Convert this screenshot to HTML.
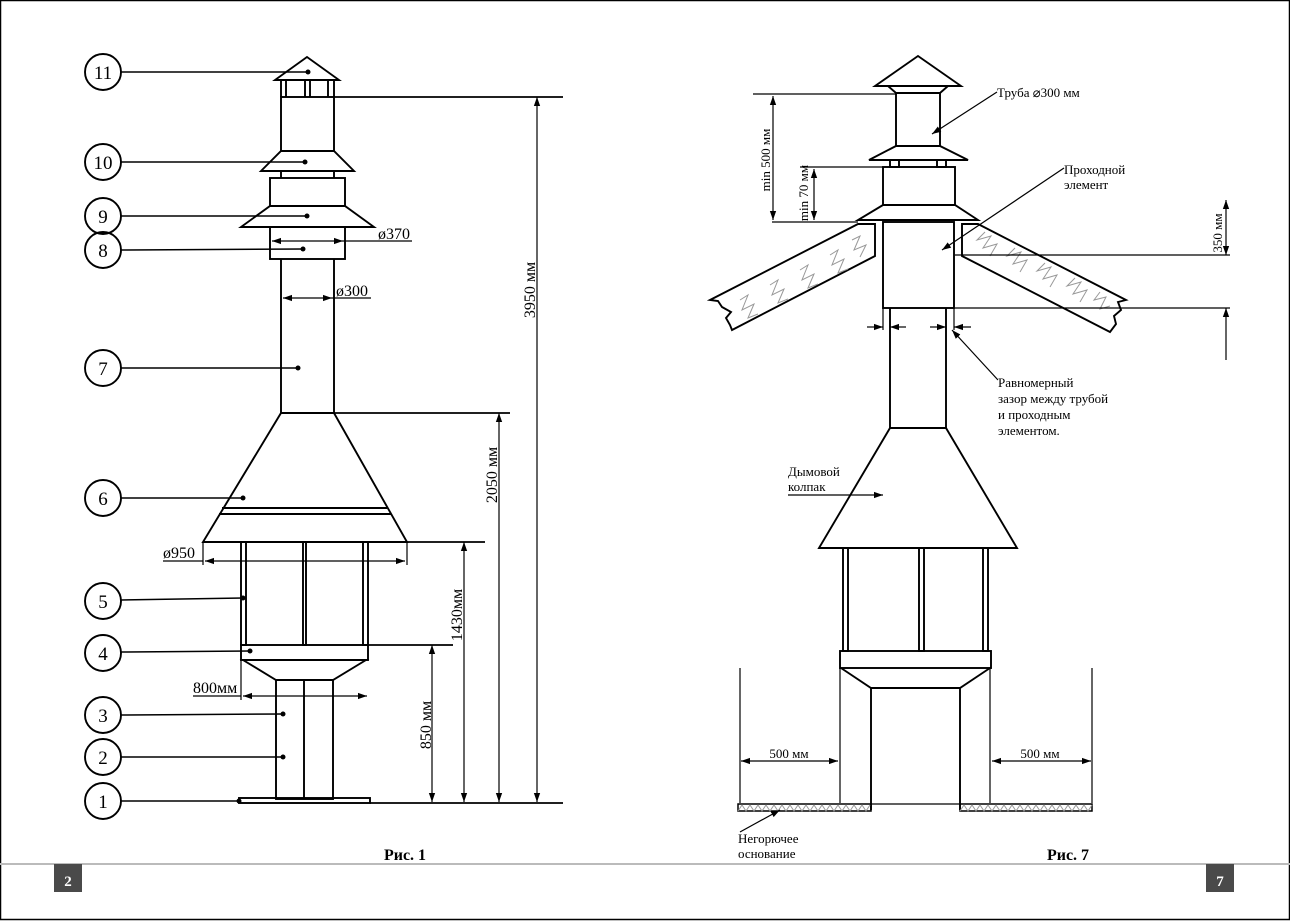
<!DOCTYPE html>
<html><head><meta charset="utf-8"><style>
html,body{margin:0;padding:0;background:#fff}
svg{display:block}
text{font-family:"Liberation Serif",serif;fill:#000}
</style></head><body>
<svg width="1290" height="921" viewBox="0 0 1290 921" xmlns="http://www.w3.org/2000/svg">
<defs>
<marker id="a" viewBox="0 0 10 10" refX="10" refY="5" markerWidth="9" markerHeight="9" markerUnits="userSpaceOnUse" orient="auto-start-reverse"><path d="M0,1.5 L10,5 L0,8.5 Z" fill="#000"/></marker>
</defs>
<rect x="0.5" y="0.5" width="1289" height="919" fill="none" stroke="#000" stroke-width="1.5"/>
<line x1="0" y1="864" x2="1290" y2="864" stroke="#bbb" stroke-width="2"/>
<rect x="54" y="864" width="28" height="28" fill="#4a4a4a"/>
<text x="68" y="886" font-size="15" font-weight="bold" text-anchor="middle" style="fill:#fff">2</text>
<rect x="1206" y="864" width="28" height="28" fill="#4a4a4a"/>
<text x="1220" y="886" font-size="15" font-weight="bold" text-anchor="middle" style="fill:#fff">7</text>

<!-- LEFT FIGURE -->
<g fill="none" stroke="#000" stroke-width="1.9">
<circle cx="103" cy="72" r="18"/><circle cx="103" cy="162" r="18"/><circle cx="103" cy="216" r="18"/><circle cx="103" cy="250" r="18"/>
<circle cx="103" cy="368" r="18"/><circle cx="103" cy="498" r="18"/><circle cx="103" cy="601" r="18"/><circle cx="103" cy="653" r="18"/>
<circle cx="103" cy="715" r="18"/><circle cx="103" cy="757" r="18"/><circle cx="103" cy="801" r="18"/>
<g stroke-width="1.5">
<line x1="121" y1="72" x2="308" y2="72"/><line x1="121" y1="162" x2="305" y2="162"/><line x1="121" y1="216" x2="307" y2="216"/>
<line x1="121" y1="250" x2="303" y2="249"/><line x1="121" y1="368" x2="298" y2="368"/><line x1="121" y1="498" x2="243" y2="498"/>
<line x1="121" y1="600" x2="243" y2="598"/><line x1="121" y1="652" x2="250" y2="651"/><line x1="121" y1="715" x2="283" y2="714"/>
<line x1="121" y1="757" x2="283" y2="757"/><line x1="121" y1="801" x2="239" y2="801"/>
</g>
<polygon points="307,57 275,80 339,80"/>
<line x1="281" y1="80" x2="281" y2="97"/><line x1="286" y1="80" x2="286" y2="97"/>
<line x1="305" y1="80" x2="305" y2="97"/><line x1="310" y1="80" x2="310" y2="97"/>
<line x1="328" y1="80" x2="328" y2="97"/><line x1="334" y1="80" x2="334" y2="97"/>
<rect x="281" y="97" width="53" height="54"/>
<polygon points="281,151 334,151 354,171 261,171"/>
<line x1="281" y1="171" x2="281" y2="178"/><line x1="334" y1="171" x2="334" y2="178"/>
<rect x="270" y="178" width="75" height="28"/>
<polygon points="270,206 345,206 374,227 241,227"/>
<rect x="270" y="227" width="75" height="32"/>
<line x1="281" y1="259" x2="281" y2="413"/><line x1="334" y1="259" x2="334" y2="413"/>
<polygon points="281,413 334,413 407,542 203,542"/>
<line x1="222" y1="508" x2="387" y2="508"/><line x1="219" y1="514" x2="391" y2="514"/>
<rect x="241" y="542" width="5" height="103"/><rect x="303" y="542" width="3" height="103"/><rect x="363" y="542" width="5" height="103"/>
<rect x="241" y="645" width="127" height="15"/>
<polygon points="243,660 366,660 333,680 276,680"/>
<rect x="276" y="680" width="57" height="119"/><line x1="304" y1="680" x2="304" y2="799"/>
<rect x="239" y="798" width="131" height="5"/>
</g>
<g fill="#000"><circle cx="308" cy="72" r="2.5"/><circle cx="305" cy="162" r="2.5"/><circle cx="307" cy="216" r="2.5"/><circle cx="303" cy="249" r="2.5"/><circle cx="298" cy="368" r="2.5"/><circle cx="243" cy="498" r="2.5"/><circle cx="243" cy="598" r="2.5"/><circle cx="250" cy="651" r="2.5"/><circle cx="283" cy="714" r="2.5"/><circle cx="283" cy="757" r="2.5"/><circle cx="239" cy="801" r="2.5"/></g>
<g font-size="19" text-anchor="middle">
<text x="103" y="79">11</text><text x="103" y="169">10</text><text x="103" y="223">9</text><text x="103" y="257">8</text>
<text x="103" y="375">7</text><text x="103" y="505">6</text><text x="103" y="608">5</text><text x="103" y="660">4</text>
<text x="103" y="722">3</text><text x="103" y="764">2</text><text x="103" y="808">1</text>
</g>
<g fill="none" stroke="#000" stroke-width="1.2">
<line x1="334" y1="97" x2="563" y2="97" stroke-width="1.7"/>
<line x1="334" y1="413" x2="510" y2="413" stroke-width="1.7"/>
<line x1="407" y1="542" x2="485" y2="542" stroke-width="1.7"/>
<line x1="368" y1="645" x2="453" y2="645" stroke-width="1.7"/>
<line x1="370" y1="803" x2="563" y2="803" stroke-width="1.7"/>
<line x1="272" y1="241" x2="343" y2="241" marker-start="url(#a)" marker-end="url(#a)"/><line x1="343" y1="241" x2="412" y2="241"/>
<line x1="283" y1="298" x2="332" y2="298" marker-start="url(#a)" marker-end="url(#a)"/><line x1="332" y1="298" x2="371" y2="298"/>
<line x1="205" y1="561" x2="405" y2="561" marker-start="url(#a)" marker-end="url(#a)"/>
<line x1="203" y1="542" x2="203" y2="565"/><line x1="407" y1="542" x2="407" y2="565"/><line x1="163" y1="561" x2="203" y2="561"/>
<line x1="243" y1="696" x2="367" y2="696" marker-start="url(#a)" marker-end="url(#a)"/>
<line x1="241" y1="660" x2="241" y2="700"/><line x1="193" y1="696" x2="241" y2="696"/>
<line x1="432" y1="645" x2="432" y2="802" marker-start="url(#a)" marker-end="url(#a)"/>
<line x1="464" y1="542" x2="464" y2="802" marker-start="url(#a)" marker-end="url(#a)"/>
<line x1="499" y1="413" x2="499" y2="802" marker-start="url(#a)" marker-end="url(#a)"/>
<line x1="537" y1="97" x2="537" y2="802" marker-start="url(#a)" marker-end="url(#a)"/>
</g>
<g font-size="16">
<text x="378" y="239">ø370</text><text x="336" y="296">ø300</text><text x="163" y="558">ø950</text><text x="193" y="693">800мм</text>
<text transform="translate(431,725) rotate(-90)" text-anchor="middle">850 мм</text>
<text transform="translate(462,615) rotate(-90)" text-anchor="middle">1430мм</text>
<text transform="translate(497,475) rotate(-90)" text-anchor="middle">2050 мм</text>
<text transform="translate(535,290) rotate(-90)" text-anchor="middle">3950 мм</text>
</g>
<text x="405" y="860" font-size="16" font-weight="bold" text-anchor="middle">Рис. 1</text>

<!-- RIGHT FIGURE -->
<g fill="none" stroke="#000" stroke-width="1.9">
<polygon points="918,56 875,86 961,86"/>
<polyline points="888,86 896,93 940,93 948,86"/>
<rect x="896" y="93" width="44" height="53"/>
<polygon points="896,146 940,146 968,160 869,160"/>
<rect x="890" y="160" width="9" height="7"/><rect x="937" y="160" width="9" height="7"/>
<rect x="883" y="167" width="72" height="38"/>
<polygon points="883,205 955,205 978,220 858,220"/>
<rect x="883" y="222" width="71" height="86"/>
<polygon points="858,224 875,224 875,256 732,330 730,325 726,318 731,312 722,307 718,301 710,300"/>
<polygon points="962,224 978,224 1126,300 1118,302 1121,310 1114,316 1116,324 1110,332 962,256"/>
<line x1="890" y1="308" x2="890" y2="428"/><line x1="946" y1="308" x2="946" y2="428"/>
<polygon points="890,428 946,428 1017,548 819,548"/>
<rect x="843" y="548" width="5" height="103"/><rect x="919" y="548" width="5" height="103"/><rect x="983" y="548" width="5" height="103"/>
<rect x="840" y="651" width="151" height="17"/>
<polyline points="841,668 871,688 960,688 990,668"/>
<line x1="871" y1="688" x2="871" y2="810"/><line x1="960" y1="688" x2="960" y2="810"/>
<line x1="871" y1="804" x2="960" y2="804" stroke-width="1.3"/>
<rect x="738" y="804" width="133" height="7" stroke-width="1.5"/>
<rect x="960" y="804" width="132" height="7" stroke-width="1.5"/>
</g>
<g fill="none" stroke="#999" stroke-width="1">
<polyline points="738,811 742,805 746,811 750,805 754,811 758,805 762,811 766,805 770,811 774,805 778,811 782,805 786,811 790,805 794,811 798,805 802,811 806,805 810,811 814,805 818,811 822,805 826,811 830,805 834,811 838,805 842,811 846,805 850,811 854,805 858,811 862,805 866,811 870,805"/>
<polyline points="960,811 964,805 968,811 972,805 976,811 980,805 984,811 988,805 992,811 996,805 1000,811 1004,805 1008,811 1012,805 1016,811 1020,805 1024,811 1028,805 1032,811 1036,805 1040,811 1044,805 1048,811 1052,805 1056,811 1060,805 1064,811 1068,805 1072,811 1076,805 1080,811 1084,805 1088,811 1092,805"/>
<polyline points="740,300 748,295 742,310 754,304 748,318 758,314"/>
<polyline points="770,285 778,280 772,295 784,289 778,303 788,299"/>
<polyline points="800,270 808,265 802,280 814,274 808,288 818,284"/>
<polyline points="830,255 838,250 832,265 844,259 838,273 848,269"/>
<polyline points="852,240 860,236 854,250 866,245 860,257"/>
<polyline points="985,232 977,240 991,236 983,248 997,244 990,256"/>
<polyline points="1015,248 1007,256 1021,252 1013,264 1027,260 1020,272"/>
<polyline points="1045,263 1037,271 1051,267 1043,279 1057,275 1050,287"/>
<polyline points="1075,278 1067,286 1081,282 1073,294 1087,290 1080,302"/>
<polyline points="1100,292 1094,300 1106,297 1100,309 1110,306"/>
</g>
<g fill="none" stroke="#000" stroke-width="1.2">
<line x1="753" y1="94" x2="896" y2="94"/>
<line x1="772" y1="222" x2="858" y2="222"/>
<line x1="800" y1="167" x2="883" y2="167"/>
<line x1="773" y1="96" x2="773" y2="220" marker-start="url(#a)" marker-end="url(#a)"/>
<line x1="814" y1="169" x2="814" y2="220" marker-start="url(#a)" marker-end="url(#a)"/>
<line x1="955" y1="255" x2="1230" y2="255"/><line x1="955" y1="308" x2="1230" y2="308"/>
<line x1="1226" y1="200" x2="1226" y2="255" marker-start="url(#a)" marker-end="url(#a)"/>
<line x1="1226" y1="360" x2="1226" y2="308" marker-end="url(#a)"/>
<line x1="883" y1="308" x2="883" y2="330"/><line x1="954" y1="308" x2="954" y2="330"/>
<line x1="867" y1="327" x2="883" y2="327" marker-end="url(#a)"/><line x1="906" y1="327" x2="890" y2="327" marker-end="url(#a)"/>
<line x1="930" y1="327" x2="946" y2="327" marker-end="url(#a)"/><line x1="971" y1="327" x2="954" y2="327" marker-end="url(#a)"/>
<line x1="998" y1="380" x2="952" y2="330" marker-end="url(#a)"/>
<line x1="997" y1="92" x2="932" y2="134" marker-end="url(#a)"/>
<line x1="1064" y1="168" x2="942" y2="250" marker-end="url(#a)"/>
<line x1="788" y1="495" x2="883" y2="495" marker-end="url(#a)"/>
<line x1="740" y1="668" x2="740" y2="803"/><line x1="1092" y1="668" x2="1092" y2="803"/>
<line x1="840" y1="668" x2="840" y2="803"/><line x1="990" y1="668" x2="990" y2="803"/>
<line x1="741" y1="761" x2="838" y2="761" marker-start="url(#a)" marker-end="url(#a)"/>
<line x1="992" y1="761" x2="1091" y2="761" marker-start="url(#a)" marker-end="url(#a)"/>
<line x1="740" y1="832" x2="780" y2="810" marker-end="url(#a)"/>
</g>
<g font-size="13">
<text x="997" y="97">Труба ⌀300 мм</text>
<text x="1064" y="174">Проходной</text><text x="1064" y="189">элемент</text>
<text x="998" y="387">Равномерный</text><text x="998" y="403">зазор между трубой</text><text x="998" y="419">и проходным</text><text x="998" y="435">элементом.</text>
<text x="788" y="476">Дымовой</text><text x="788" y="491">колпак</text>
<text x="789" y="758" text-anchor="middle">500 мм</text><text x="1040" y="758" text-anchor="middle">500 мм</text>
<text x="738" y="843">Негорючее</text><text x="738" y="858">основание</text>
<text transform="translate(770,160) rotate(-90)" text-anchor="middle">min 500 мм</text>
<text transform="translate(808,193) rotate(-90)" text-anchor="middle">min 70 мм</text>
<text transform="translate(1222,233) rotate(-90)" text-anchor="middle">350 мм</text>
</g>
<text x="1068" y="860" font-size="16" font-weight="bold" text-anchor="middle">Рис. 7</text>
</svg>
</body></html>
